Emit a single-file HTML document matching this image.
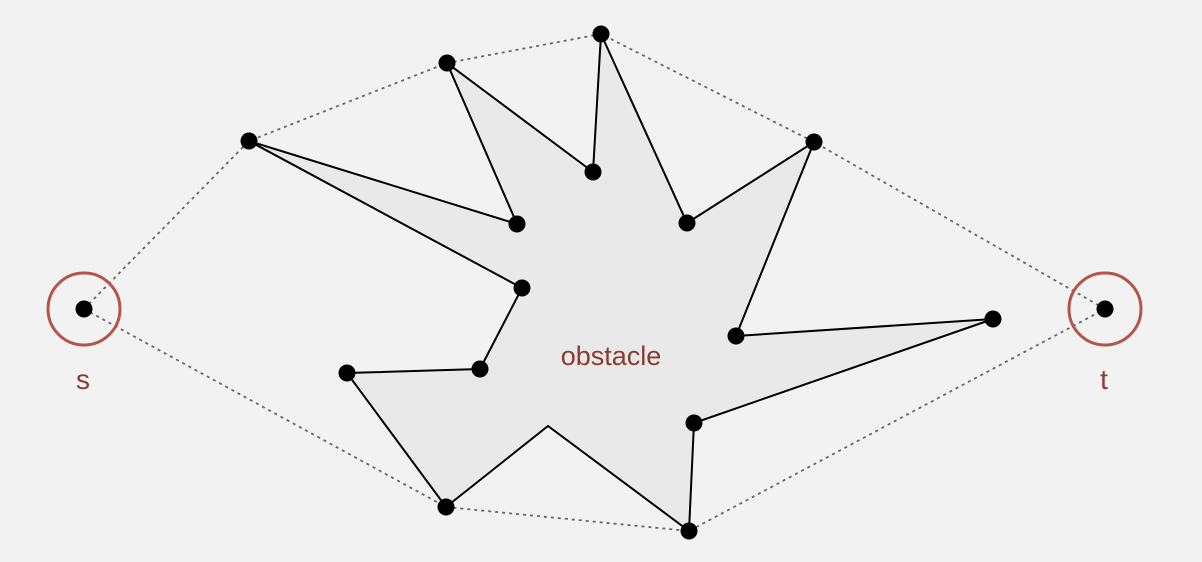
<!DOCTYPE html>
<html>
<head>
<meta charset="utf-8">
<style>
  html,body{margin:0;padding:0;background:#f2f2f2;}
  svg{display:block;}
  text{font-family:"Liberation Sans","DejaVu Sans",sans-serif;}
</style>
</head>
<body>
<svg id="chart" width="1202" height="562" viewBox="0 0 1202 562">
  <rect width="1202" height="562" fill="#f2f2f2"/>
</svg>
<script>
const polyX = [249,517,447,593,601,687,814,736,993,694,689,548,446,347,480,522];
const polyY = [141,224,63,172,34,223,142,336,319,423,531,426,507,373,369,288];
const hullTopX = [84,249,447,601,814,1105];
const hullTopY = [309,141,63,34,142,309];
const hullBotX = [84,446,689,1105];
const hullBotY = [309,507,531,309];
const termX = [84,1105];
const termY = [309,309];
const termLabels = ['s','t'];

const NS='http://www.w3.org/2000/svg';
const svgEl=document.getElementById('chart');
function mk(tag,attrs){const e=document.createElementNS(NS,tag);for(const k in attrs)e.setAttribute(k,attrs[k]);svgEl.appendChild(e);return e;}

const poly=mk('polygon',{points:polyX.map((x,i)=>x+','+polyY[i]).join(' '),fill:'#e9e9e9',stroke:'#000','stroke-width':2,'stroke-linejoin':'miter'});



const hullTop=mk('polyline',{points:hullTopX.map((x,i)=>x+','+hullTopY[i]).join(' '),fill:'none',stroke:'#666','stroke-width':1.8,'stroke-dasharray':'3,4'});


const hullBot=mk('polyline',{points:hullBotX.map((x,i)=>x+','+hullBotY[i]).join(' '),fill:'none',stroke:'#666','stroke-width':1.8,'stroke-dasharray':'3,4'});



for(let i=0;i<termX.length;i++){
  const c=mk('circle',{cx:termX[i],cy:termY[i],r:36,fill:'none',stroke:'#b5544b','stroke-width':3});
  
  
  const d=mk('circle',{cx:termX[i],cy:termY[i],r:8.5,fill:'#000'});
  
  
  const t=mk('text',{x:termX[i]-1,y:termY[i]+80,'text-anchor':'middle','font-size':28,fill:'#8b3a30'});
  t.textContent=termLabels[i];
  
  
}

for(let i=0;i<polyX.length;i++){
  if(i===11) continue;
  const d=mk('circle',{cx:polyX[i],cy:polyY[i],r:8.5,fill:'#000'});
  
  
}

const lbl=mk('text',{x:611,y:365,'text-anchor':'middle','font-size':27,fill:'#8b3a30'});
lbl.textContent='obstacle';


</script>
</body>
</html>
